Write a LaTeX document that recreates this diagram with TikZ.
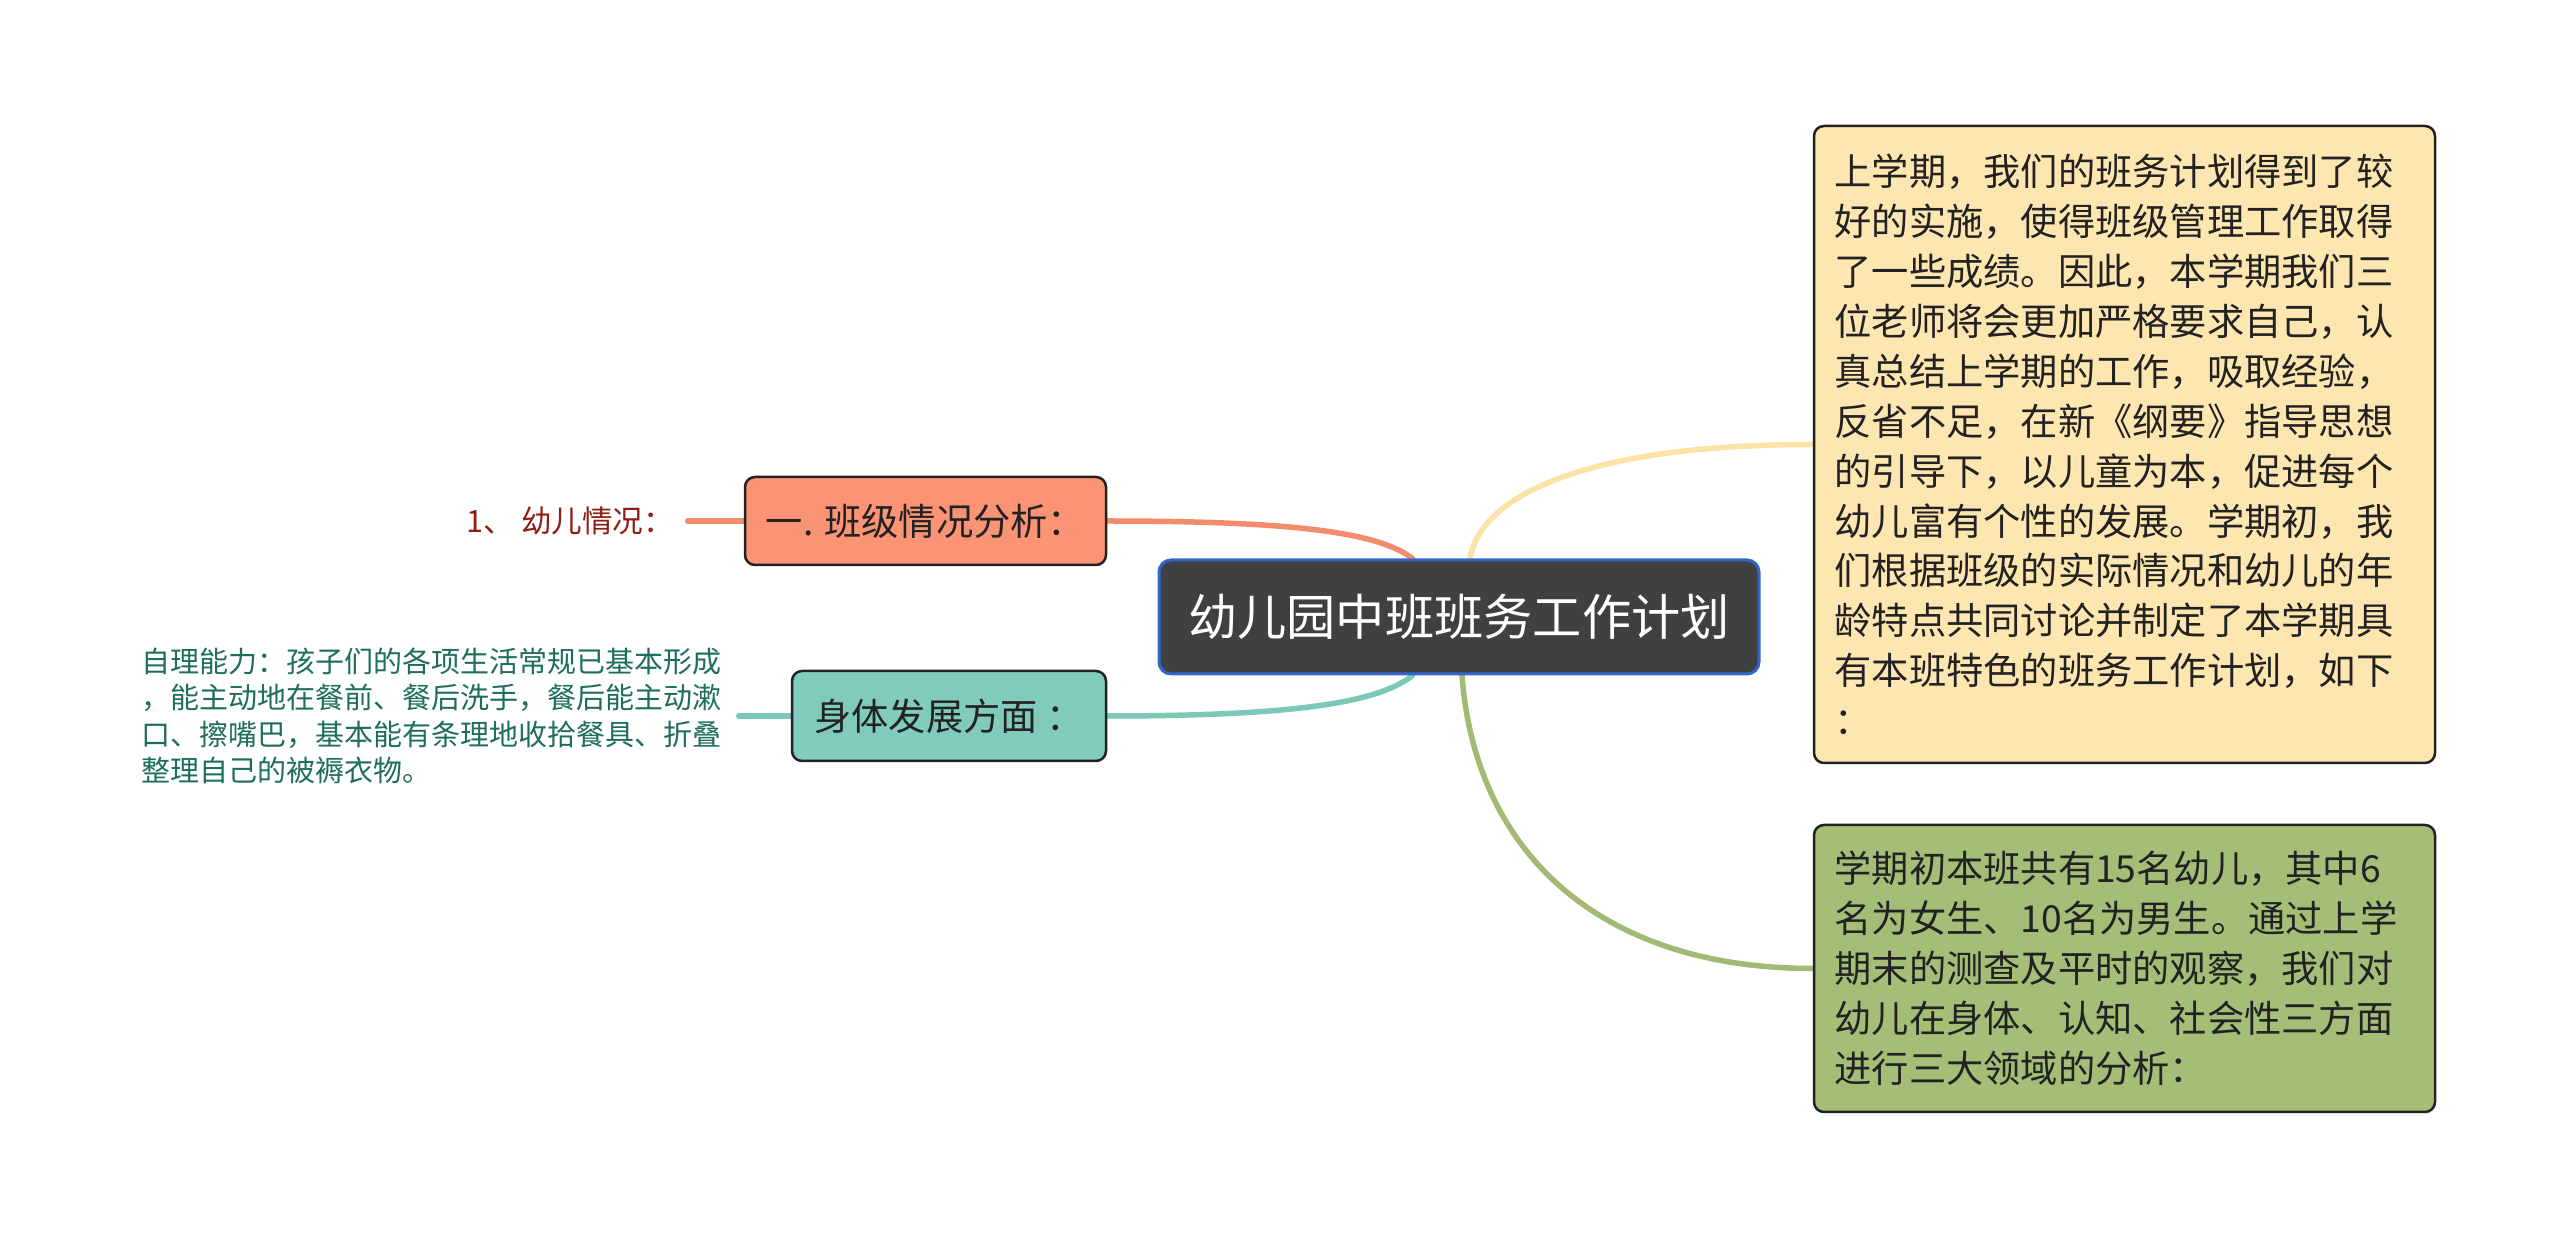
\documentclass[tikz,border=0pt]{standalone}
\usepackage{fontspec}
\setmainfont{Noto Sans CJK SC}
\usetikzlibrary{positioning, calc, backgrounds}

\definecolor{rootfill}{HTML}{404040}
\definecolor{rootline}{HTML}{3366CC}
\definecolor{salmonfill}{HTML}{FA9475}
\definecolor{salmonline}{HTML}{F38C6C}
\definecolor{tealfill}{HTML}{80CBBC}
\definecolor{tealline}{HTML}{7CC8B9}
\definecolor{creamfill}{HTML}{FEE6B0}
\definecolor{creamline}{HTML}{FBE2A6}
\definecolor{olivefill}{HTML}{A4BE78}
\definecolor{oliveline}{HTML}{A2BA74}
\definecolor{leafred}{HTML}{8C1E14}
\definecolor{leafteal}{HTML}{1E6E5E}
\definecolor{inktext}{HTML}{222222}

\begin{document}
\begin{tikzpicture}[
    x=0.1mm, y=-0.1mm,
    node distance=5.6mm,
    root/.style={rectangle, draw=rootline, fill=rootfill, line width=0.3mm, rounded corners=1.2mm, text=white, minimum width=60mm, minimum height=11.4mm, font=\fontsize{14}{17}\selectfont},
    topic/.style={rectangle, draw=inktext, line width=0.25mm, rounded corners=1mm, text=inktext, font=\fontsize{10.6}{14.2}\selectfont},
    para/.style={align=left, text width=58mm, inner xsep=2.05mm},
    line/.style={draw, line width=0.55mm, line cap=round}
]
\useasboundingbox (0,0) rectangle (2560,1238);

\node [root] (root) at (1459,617) {幼儿园中班班务工作计划};

\node [topic, fill=salmonfill, minimum width=36.1mm, minimum height=8.8mm] (class) at (925.5,521) {一. 班级情况分析：};
\node [topic, fill=tealfill, minimum width=31.4mm, minimum height=9mm] (body) at (949,716) {身体发展方面 ：};

\node [left=of class, text=leafred, inner xsep=1.3mm, font=\fontsize{8.7}{10}\selectfont] (kids) {1、 幼儿情况：};
\node [left=5.2mm of body, align=left, text=leafteal, inner xsep=1.7mm, font=\fontsize{8.25}{10.4}\selectfont] (selfcare) {自理能力：孩子们的各项生活常规已基本形成\\，能主动地在餐前、餐后洗手，餐后能主动漱\\口、擦嘴巴，基本能有条理地收拾餐具、折叠\\整理自己的被褥衣物。};

\node [topic, para, fill=creamfill, minimum height=63.7mm] (plan) at (2124.5,444.5) {上学期，我们的班务计划得到了较\\好的实施，使得班级管理工作取得\\了一些成绩。因此，本学期我们三\\位老师将会更加严格要求自己，认\\真总结上学期的工作，吸取经验，\\反省不足，在新《纲要》指导思想\\的引导下，以儿童为本，促进每个\\幼儿富有个性的发展。学期初，我\\们根据班级的实际情况和幼儿的年\\龄特点共同讨论并制定了本学期具\\有本班特色的班务工作计划，如下\\：};
\node [topic, para, fill=olivefill, minimum height=28.7mm] (stats) at (2124.5,968.5) {学期初本班共有15名幼儿，其中6\\名为女生、10名为男生。通过上学\\期末的测查及平时的观察，我们对\\幼儿在身体、认知、社会性三方面\\进行三大领域的分析：};

\begin{pgfonlayer}{background}
\fill [white] (0,0) rectangle (2560,1238);
\path [line, salmonline] (class.east) .. controls +(194,0) and +(-33,-25) .. ($(root.north west)!0.423!(root.north east)$);
\path [line, tealline] (body.east) .. controls +(194,0) and +(-33,26) .. ($(root.south west)!0.423!(root.south east)$);
\path [line, creamline] ($(root.north west)!0.518!(root.north east)$) .. controls +(10,-60) and +(-234,0) .. (plan.west);
\path [line, oliveline] ($(root.south west)!0.505!(root.south east)$) .. controls +(13,176) and +(-214,0) .. (stats.west);
\path [line, salmonline] (class.west) -- (kids.east);
\path [line, tealline] (body.west) -- (selfcare.east);
\end{pgfonlayer}
\end{tikzpicture}
\end{document}
